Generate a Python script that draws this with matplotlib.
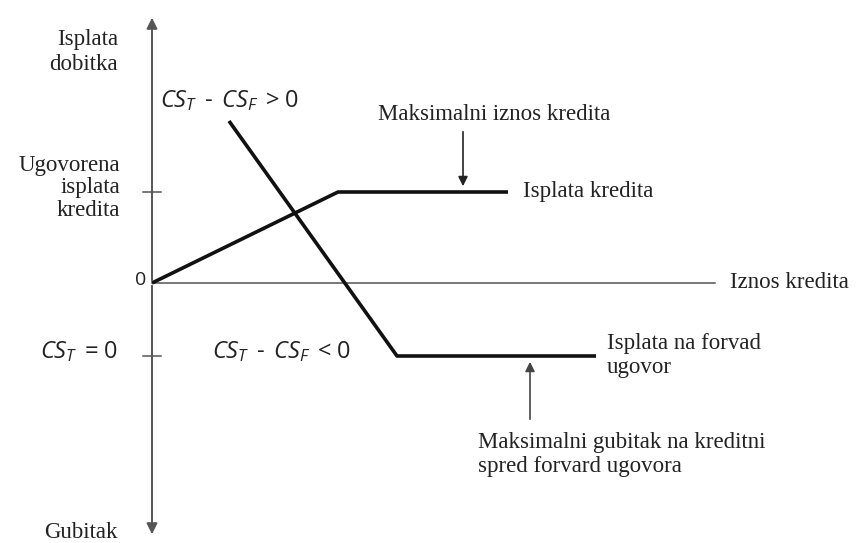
import matplotlib.pyplot as plt

# diagram values (x = iznos kredita, y = isplata), origin at the axes crossing
loan_x = [0, 186, 356]
loan_y = [0, 91, 91]
fwd_x = [77, 245, 444]
fwd_y = [162, -73, -73]
tick_y = [91, -73]
axis_top = 268
axis_bottom = -254
axis_right = 563


def main():
    plt.rcParams['mathtext.fontset'] = 'custom'
    plt.rcParams['mathtext.rm'] = 'Open Sans'
    plt.rcParams['mathtext.it'] = 'Open Sans:italic'
    serif = 'Liberation Serif'
    sans = 'Open Sans'
    tc = '#222222'

    fig = plt.figure(figsize=(8.59, 5.43), dpi=100)
    ax = fig.add_axes([0, 0, 1, 1])
    ax.set_xlim(-152, 707)
    ax.set_ylim(-260, 283)
    ax.axis('off')

    axis_col = '#555555'
    # axes
    ax.annotate('', xy=(0, axis_top), xytext=(0, 0),
                arrowprops=dict(arrowstyle='-|>', color=axis_col, lw=1.4, mutation_scale=16))
    ax.annotate('', xy=(0, axis_bottom), xytext=(0, 0),
                arrowprops=dict(arrowstyle='-|>', color=axis_col, lw=1.4, mutation_scale=16))
    ax.plot([0, axis_right], [0, 0], color=axis_col, lw=1.1)
    for ty in tick_y:
        ax.plot([-9, 9], [ty, ty], color=axis_col, lw=1.1)

    # payoff lines
    ax.plot(loan_x, loan_y, color='#111111', lw=2.6, solid_capstyle='butt')
    ax.plot(fwd_x, fwd_y, color='#111111', lw=2.6, solid_capstyle='butt')

    # annotation arrows
    ax.annotate('', xy=(311, 94), xytext=(311, 154),
                arrowprops=dict(arrowstyle='-|>', color='#222222', lw=1.2, mutation_scale=14))
    ax.annotate('', xy=(378, -76), xytext=(378, -139),
                arrowprops=dict(arrowstyle='-|>', color='#444444', lw=1.2, mutation_scale=14))

    fs = 16.5
    ss = 17
    ax.text(-34, 231, 'Isplata\ndobitka', family=serif, fontsize=fs, ha='right', va='center',
            linespacing=1.19, color=tc)
    ax.text(-32, 95, 'Ugovorena\nisplata\nkredita', family=serif, fontsize=fs, ha='right',
            va='center', linespacing=1.12, color=tc)
    ax.text(-34, -250, 'Gubitak', family=serif, fontsize=fs, ha='right', va='center', color=tc)
    ax.text(-6, 3, '0', family=sans, fontsize=14, ha='right', va='center', color=tc)
    ax.text(-34, -69, r'$CS_T\,$ = 0', family=sans, fontsize=ss, ha='right', va='center',
            color=tc)
    ax.text(60, -69, r'$CS_T\,$ - $\,CS_F\,$ < 0', family=sans, fontsize=ss, ha='left',
            va='center', color=tc)
    ax.text(8, 182, r'$CS_T\,$ - $\,CS_F\,$ > 0', family=sans, fontsize=ss, ha='left',
            va='center', color=tc)
    ax.text(226, 168, 'Maksimalni iznos kredita', family=serif, fontsize=fs, ha='left',
            va='center', color=tc)
    ax.text(371, 91, 'Isplata kredita', family=serif, fontsize=fs, ha='left', va='center',
            color=tc)
    ax.text(578, 0, 'Iznos kredita', family=serif, fontsize=fs, ha='left', va='center',
            color=tc)
    ax.text(455, -72.5, 'Isplata na forvad\nugovor', family=serif, fontsize=fs, ha='left',
            va='center', linespacing=1.19, color=tc)
    ax.text(326, -171.5, 'Maksimalni gubitak na kreditni\nspred forvard ugovora', family=serif,
            fontsize=fs, ha='left', va='center', linespacing=1.19, color=tc)

    fig.savefig('out.png', dpi=100)


if __name__ == '__main__':
    main()
